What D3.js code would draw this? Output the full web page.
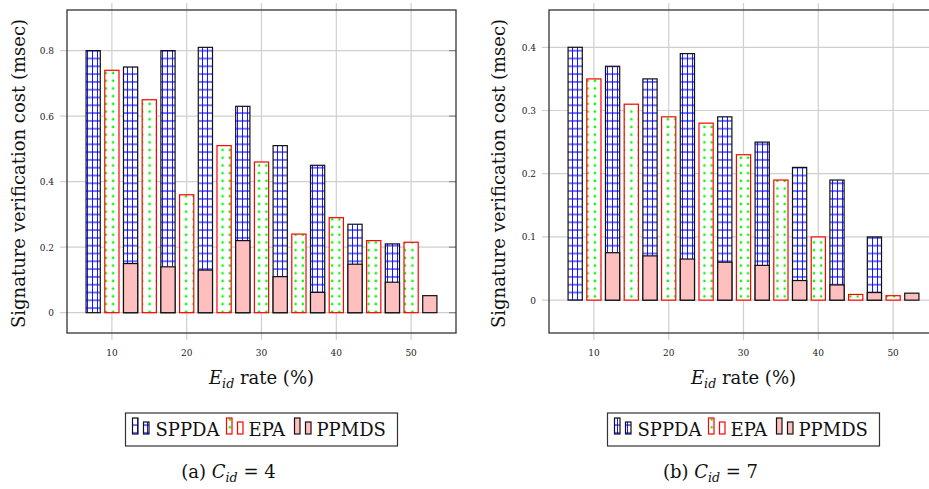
<!DOCTYPE html>
<html lang="en">
<head>
<meta charset="utf-8">
<title>Signature verification cost</title>
<script src="https://d3js.org/d3.v7.min.js"></script>
<style>
  body { margin: 0; background: #fff; }
</style>
</head>
<body>
<script>
// E_id rate categories and the three schemes
var xCats = [10, 15, 20, 25, 30, 35, 40, 45, 50];
var xTicks = [10, 20, 30, 40, 50];

// (a) C_id = 4
var sppdaA = [0.80, 0.75, 0.80, 0.81, 0.63, 0.51, 0.45, 0.27, 0.21];
var epaA   = [0.74, 0.65, 0.36, 0.51, 0.46, 0.24, 0.29, 0.22, 0.215];
var ppmdsA = [0.15, 0.14, 0.13, 0.22, 0.11, 0.062, 0.148, 0.093, 0.052];
var yTicksA = [0, 0.2, 0.4, 0.6, 0.8];

// (b) C_id = 7
var sppdaB = [0.40, 0.37, 0.35, 0.39, 0.29, 0.25, 0.21, 0.19, 0.10];
var epaB   = [0.35, 0.31, 0.29, 0.28, 0.23, 0.19, 0.10, 0.009, 0.007];
var ppmdsB = [0.075, 0.07, 0.065, 0.06, 0.055, 0.031, 0.024, 0.012, 0.011];
var yTicksB = [0, 0.1, 0.2, 0.3, 0.4];

var seriesNames = ["SPPDA", "EPA", "PPMDS"];

var serif = "DejaVu Serif";

var svg = d3.select("body").append("svg")
    .attr("width", 929)
    .attr("height", 489)
    .style("font-family", serif);

// fill patterns: blue grid for SPPDA, green dots for EPA
var defs = svg.append("defs");
var grid = defs.append("pattern")
    .attr("id", "gridPat")
    .attr("patternUnits", "userSpaceOnUse")
    .attr("width", 5).attr("height", 7.8);
grid.append("rect").attr("width", 5).attr("height", 7.8).attr("fill", "#fff");
grid.append("line").attr("x1", 2.5).attr("x2", 2.5).attr("y1", 0).attr("y2", 7.8)
    .attr("stroke", "#0000ff").attr("stroke-width", 0.9);
grid.append("line").attr("x1", 0).attr("x2", 5).attr("y1", 3.9).attr("y2", 3.9)
    .attr("stroke", "#0000ff").attr("stroke-width", 1.1);

var dots = defs.append("pattern")
    .attr("id", "dotPat")
    .attr("patternUnits", "userSpaceOnUse")
    .attr("width", 7.3).attr("height", 7.7);
dots.append("rect").attr("width", 7.3).attr("height", 7.7).attr("fill", "#fff");
dots.append("circle").attr("cx", 3.6).attr("cy", 3.8).attr("r", 1.3).attr("fill", "#00ff00");

var styles = {
    SPPDA: { fill: "url(#gridPat)", stroke: "#111", shift: -2.5 },
    EPA:   { fill: "url(#dotPat)",  stroke: "#ff0000", shift: 0 },
    PPMDS: { fill: "#ffbfbf",       stroke: "#111", shift: 2.5 }
};

function subLabel(sel, main, rest, size) {
    // italic letter with italic "id" subscript
    sel.append("tspan").attr("font-style", "italic").text(main);
    sel.append("tspan").attr("font-style", "italic")
        .attr("font-size", size * 0.7).attr("dy", size * 0.22).text("id");
    sel.append("tspan").attr("dy", -size * 0.22).text(rest);
}

function drawPanel(opt) {
    var left = opt.left, top = 10, w = 389, h = 323;
    var g = svg.append("g");

    var x = d3.scaleLinear().domain([4, 56]).range([left, left + w]);
    var y = d3.scaleLinear().domain(opt.yDomain).range([top + h, top]);

    // grid lines and tick marks
    g.selectAll(".gx").data(xTicks).enter().append("line")
        .attr("x1", d => x(d)).attr("x2", d => x(d))
        .attr("y1", top - 7).attr("y2", top + h + 7)
        .attr("stroke", "#cfcfcf").attr("stroke-width", 1.2);
    g.selectAll(".gy").data(opt.yTicks).enter().append("line")
        .attr("x1", left - 7).attr("x2", left + w)
        .attr("y1", d => y(d)).attr("y2", d => y(d))
        .attr("stroke", "#cfcfcf").attr("stroke-width", 1.2);
    g.selectAll(".ty").data(opt.yTicks).enter().append("line")
        .attr("x1", left + w - 7).attr("x2", left + w)
        .attr("y1", d => y(d)).attr("y2", d => y(d))
        .attr("stroke", "#888").attr("stroke-width", 1.2);

    var bw = x(1.9) - x(0);
    seriesNames.forEach(function(name, i) {
        var st = styles[name];
        g.selectAll(".bar" + i).data(opt.series[i]).enter().append("rect")
            .attr("x", (d, j) => x(xCats[j] + st.shift) - bw / 2)
            .attr("y", d => y(d))
            .attr("width", bw)
            .attr("height", d => y(0) - y(d))
            .attr("fill", st.fill)
            .attr("stroke", st.stroke)
            .attr("stroke-width", 1.2);
    });

    // frame
    g.append("rect")
        .attr("x", left).attr("y", top).attr("width", w).attr("height", h)
        .attr("fill", "none").attr("stroke", "#333").attr("stroke-width", 1.3);

    // tick labels
    g.selectAll(".lx").data(xTicks).enter().append("text")
        .attr("x", d => x(d)).attr("y", top + h + 23)
        .attr("text-anchor", "middle").attr("font-size", 9)
        .attr("fill", "#222")
        .text(d => d);
    g.selectAll(".ly").data(opt.yTicks).enter().append("text")
        .attr("x", left - 13).attr("y", d => y(d) + 3.5)
        .attr("text-anchor", "end").attr("font-size", 9)
        .attr("fill", "#222")
        .text(d => d);

    // axis titles
    g.append("text")
        .attr("transform", "translate(" + opt.ylabelX + "," + (top + h / 2 + 2) + ") rotate(-90)")
        .attr("text-anchor", "middle").attr("font-size", 18)
        .attr("fill", "#111")
        .text("Signature verification cost (msec)");
    var xt = g.append("text")
        .attr("x", left + w / 2).attr("y", 384)
        .attr("text-anchor", "middle").attr("font-size", 18)
        .attr("fill", "#111");
    subLabel(xt, "E", " rate (%)", 18);

    // legend
    var lx = left + w / 2 - 136, ly = 413;
    g.append("rect").attr("x", lx).attr("y", ly).attr("width", 272).attr("height", 33)
        .attr("fill", "#fff").attr("stroke", "#333").attr("stroke-width", 1.2);
    var offs = [7, 101, 169];
    var textOffs = [30, 123, 191];
    seriesNames.forEach(function(name, i) {
        var st = styles[name];
        [[0, 16], [11, 12]].forEach(function(p) {
            g.append("rect")
                .attr("x", lx + offs[i] + p[0]).attr("y", ly + 21 - p[1])
                .attr("width", 5.5).attr("height", p[1])
                .attr("fill", st.fill).attr("stroke", st.stroke).attr("stroke-width", 1.2);
        });
        g.append("text")
            .attr("x", lx + textOffs[i]).attr("y", ly + 23)
            .attr("font-size", 18).attr("fill", "#111").text(name);
    });

    // caption
    var cap = g.append("text")
        .attr("x", left + w / 2 - 33).attr("y", 478)
        .attr("text-anchor", "middle").attr("font-size", 18)
        .attr("fill", "#111");
    cap.append("tspan").text(opt.tag + " ");
    subLabel(cap, "C", " = " + opt.cid, 18);
}

drawPanel({ left: 67, yDomain: [-0.062, 0.924], yTicks: yTicksA, ylabelX: 25,
            series: [sppdaA, epaA, ppmdsA], tag: "(a)", cid: 4 });
drawPanel({ left: 549, yDomain: [-0.052, 0.459], yTicks: yTicksB, ylabelX: 505,
            series: [sppdaB, epaB, ppmdsB], tag: "(b)", cid: 7 });
</script>
</body>
</html>
